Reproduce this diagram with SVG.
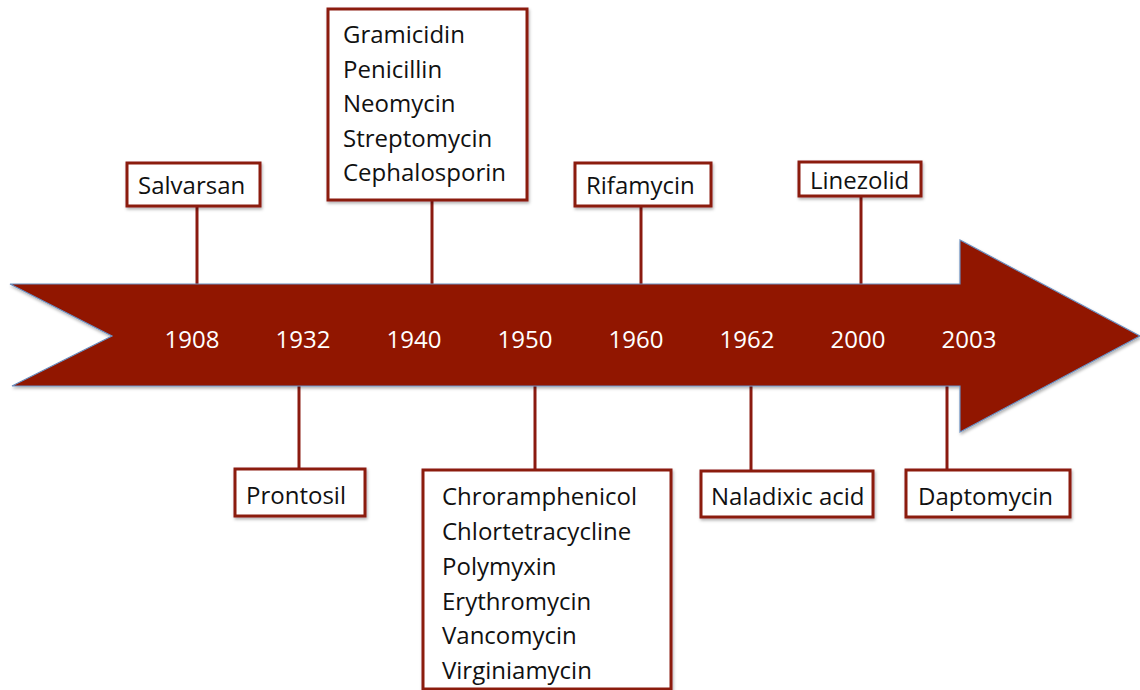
<svg xmlns="http://www.w3.org/2000/svg" width="1140" height="690" viewBox="0 0 1140 690">
<defs>
<style>
.box{fill:#ffffff;stroke:#8b1a10;stroke-width:3}
.conn{stroke:#8b1a10;stroke-width:3;fill:none}
.lbl{font-family:"Open Sans","Liberation Sans",sans-serif;font-size:24px;fill:#111111}
.yr{font-family:"Open Sans","Liberation Sans",sans-serif;font-size:24px;fill:#ffffff;text-anchor:middle}
</style>
<filter id="sh" x="-10%" y="-10%" width="130%" height="130%">
<feDropShadow dx="1" dy="2" stdDeviation="1.5" flood-color="#000" flood-opacity="0.3"/>
</filter>
</defs>
<rect width="1140" height="690" fill="#ffffff"/>
<g id="connectors">
<line class="conn" x1="197" y1="205" x2="197" y2="285"/>
<line class="conn" x1="432" y1="200" x2="432" y2="285"/>
<line class="conn" x1="641" y1="206" x2="641" y2="285"/>
<line class="conn" x1="861" y1="196" x2="861" y2="285"/>
<line class="conn" x1="299" y1="385" x2="299" y2="468"/>
<line class="conn" x1="535" y1="385" x2="535" y2="470"/>
<line class="conn" x1="751" y1="385" x2="751" y2="471"/>
<line class="conn" x1="947" y1="385" x2="947" y2="470"/>
</g>
<g id="timeline">
<polygon points="10,284 960,284 960,240 1140,336 960,432 960,386 12,386 112,336" fill="#911300" stroke="#6a8fc0" stroke-width="1.2" filter="url(#sh)"/>
<text class="yr" x="192" y="348">1908</text>
<text class="yr" x="303" y="348">1932</text>
<text class="yr" x="414" y="348">1940</text>
<text class="yr" x="525" y="348">1950</text>
<text class="yr" x="636" y="348">1960</text>
<text class="yr" x="747" y="348">1962</text>
<text class="yr" x="858" y="348">2000</text>
<text class="yr" x="969" y="348">2003</text>
</g>
<g id="salvarsan"><rect class="box" x="127" y="163" width="133" height="43" filter="url(#sh)"/><text class="lbl" x="138" y="194">Salvarsan</text></g>
<g id="group1940"><rect class="box" x="328" y="9" width="199" height="191" filter="url(#sh)"/>
<text class="lbl" x="343" y="43">Gramicidin</text>
<text class="lbl" x="343" y="78">Penicillin</text>
<text class="lbl" x="343" y="112">Neomycin</text>
<text class="lbl" x="343" y="147">Streptomycin</text>
<text class="lbl" x="343" y="181">Cephalosporin</text></g>
<g id="rifamycin"><rect class="box" x="575" y="163" width="136" height="43" filter="url(#sh)"/><text class="lbl" x="586" y="194">Rifamycin</text></g>
<g id="linezolid"><rect class="box" x="799" y="162" width="122" height="34" filter="url(#sh)"/><text class="lbl" x="810" y="189">Linezolid</text></g>
<g id="prontosil"><rect class="box" x="235" y="469" width="130" height="47" filter="url(#sh)"/><text class="lbl" x="246" y="504">Prontosil</text></g>
<g id="group1950"><rect class="box" x="423" y="470" width="248" height="219" filter="url(#sh)"/>
<text class="lbl" x="442" y="505">Chroramphenicol</text>
<text class="lbl" x="442" y="540">Chlortetracycline</text>
<text class="lbl" x="442" y="575">Polymyxin</text>
<text class="lbl" x="442" y="610">Erythromycin</text>
<text class="lbl" x="442" y="644">Vancomycin</text>
<text class="lbl" x="442" y="679">Virginiamycin</text></g>
<g id="naladixic"><rect class="box" x="701" y="471" width="172" height="46" filter="url(#sh)"/><text class="lbl" x="711" y="505">Naladixic acid</text></g>
<g id="daptomycin"><rect class="box" x="906" y="470" width="164" height="47" filter="url(#sh)"/><text class="lbl" x="918" y="505">Daptomycin</text></g>
</svg>
